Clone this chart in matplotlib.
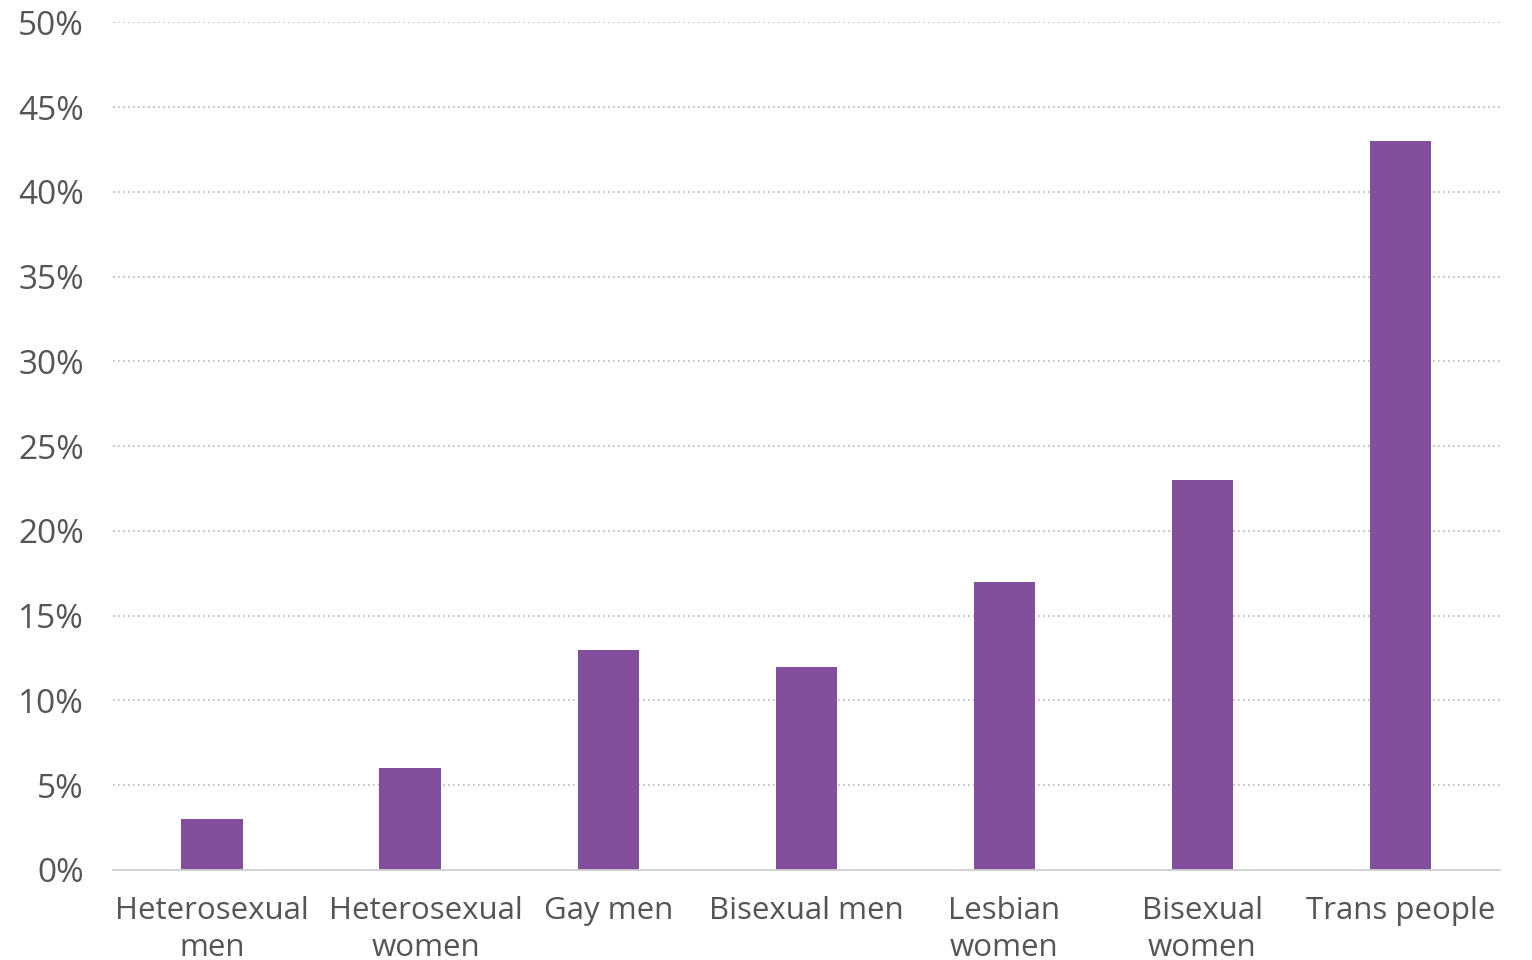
import matplotlib
matplotlib.use('Agg')
import matplotlib.pyplot as plt
import matplotlib.transforms as mtransforms
import numpy as np

# share of each group, in percent
categories = ['Heterosexual\nmen', 'Heterosexual\nwomen', 'Gay men', 'Bisexual men',
              'Lesbian\nwomen', 'Bisexual\nwomen', 'Trans people']
values = [3, 6, 13, 12, 17, 23, 43]
yticks = [0, 5, 10, 15, 20, 25, 30, 35, 40, 45, 50]

plt.rcParams['font.family'] = ['Open Sans', 'DejaVu Sans']

fig = plt.figure(figsize=(15.32, 9.6), dpi=100)
ax = fig.add_axes([0.0738, 0.0938, 0.905, 0.883])

x = np.arange(len(categories))
ax.bar(x, values, width=0.31, color='#834e9b', zorder=3)

ax.set_xlim(-0.5, len(categories) - 0.5)
ax.set_ylim(0, 50)
ax.set_yticks(yticks)
ax.set_yticklabels([f'{v}%' for v in yticks])
ax.set_xticks(x)
ax.set_xticklabels(categories, linespacing=1.28)

ax.grid(axis='y', color='#b5b5b5', linestyle=(0, (1, 2)), linewidth=1.2, zorder=0)
for side in ('top', 'right', 'left'):
    ax.spines[side].set_visible(False)
ax.spines['bottom'].set_color('#d0d0d0')
ax.spines['bottom'].set_linewidth(1.3)
ax.spines['bottom'].set_zorder(4)

ax.tick_params(axis='both', length=0, labelcolor='#555555')
ax.tick_params(axis='x', labelsize=22.5, pad=19)
ax.tick_params(axis='y', labelsize=24, pad=21)
# hide the 0% gridline under the axis line
ax.yaxis.get_gridlines()[0].set_visible(False)

# nudge the second label right so it clears its neighbour
lbl = ax.get_xticklabels()[1]
lbl.set_transform(lbl.get_transform() + mtransforms.ScaledTranslation(0.16, 0, fig.dpi_scale_trans))

fig.savefig('out.png', dpi=100, facecolor='white')
